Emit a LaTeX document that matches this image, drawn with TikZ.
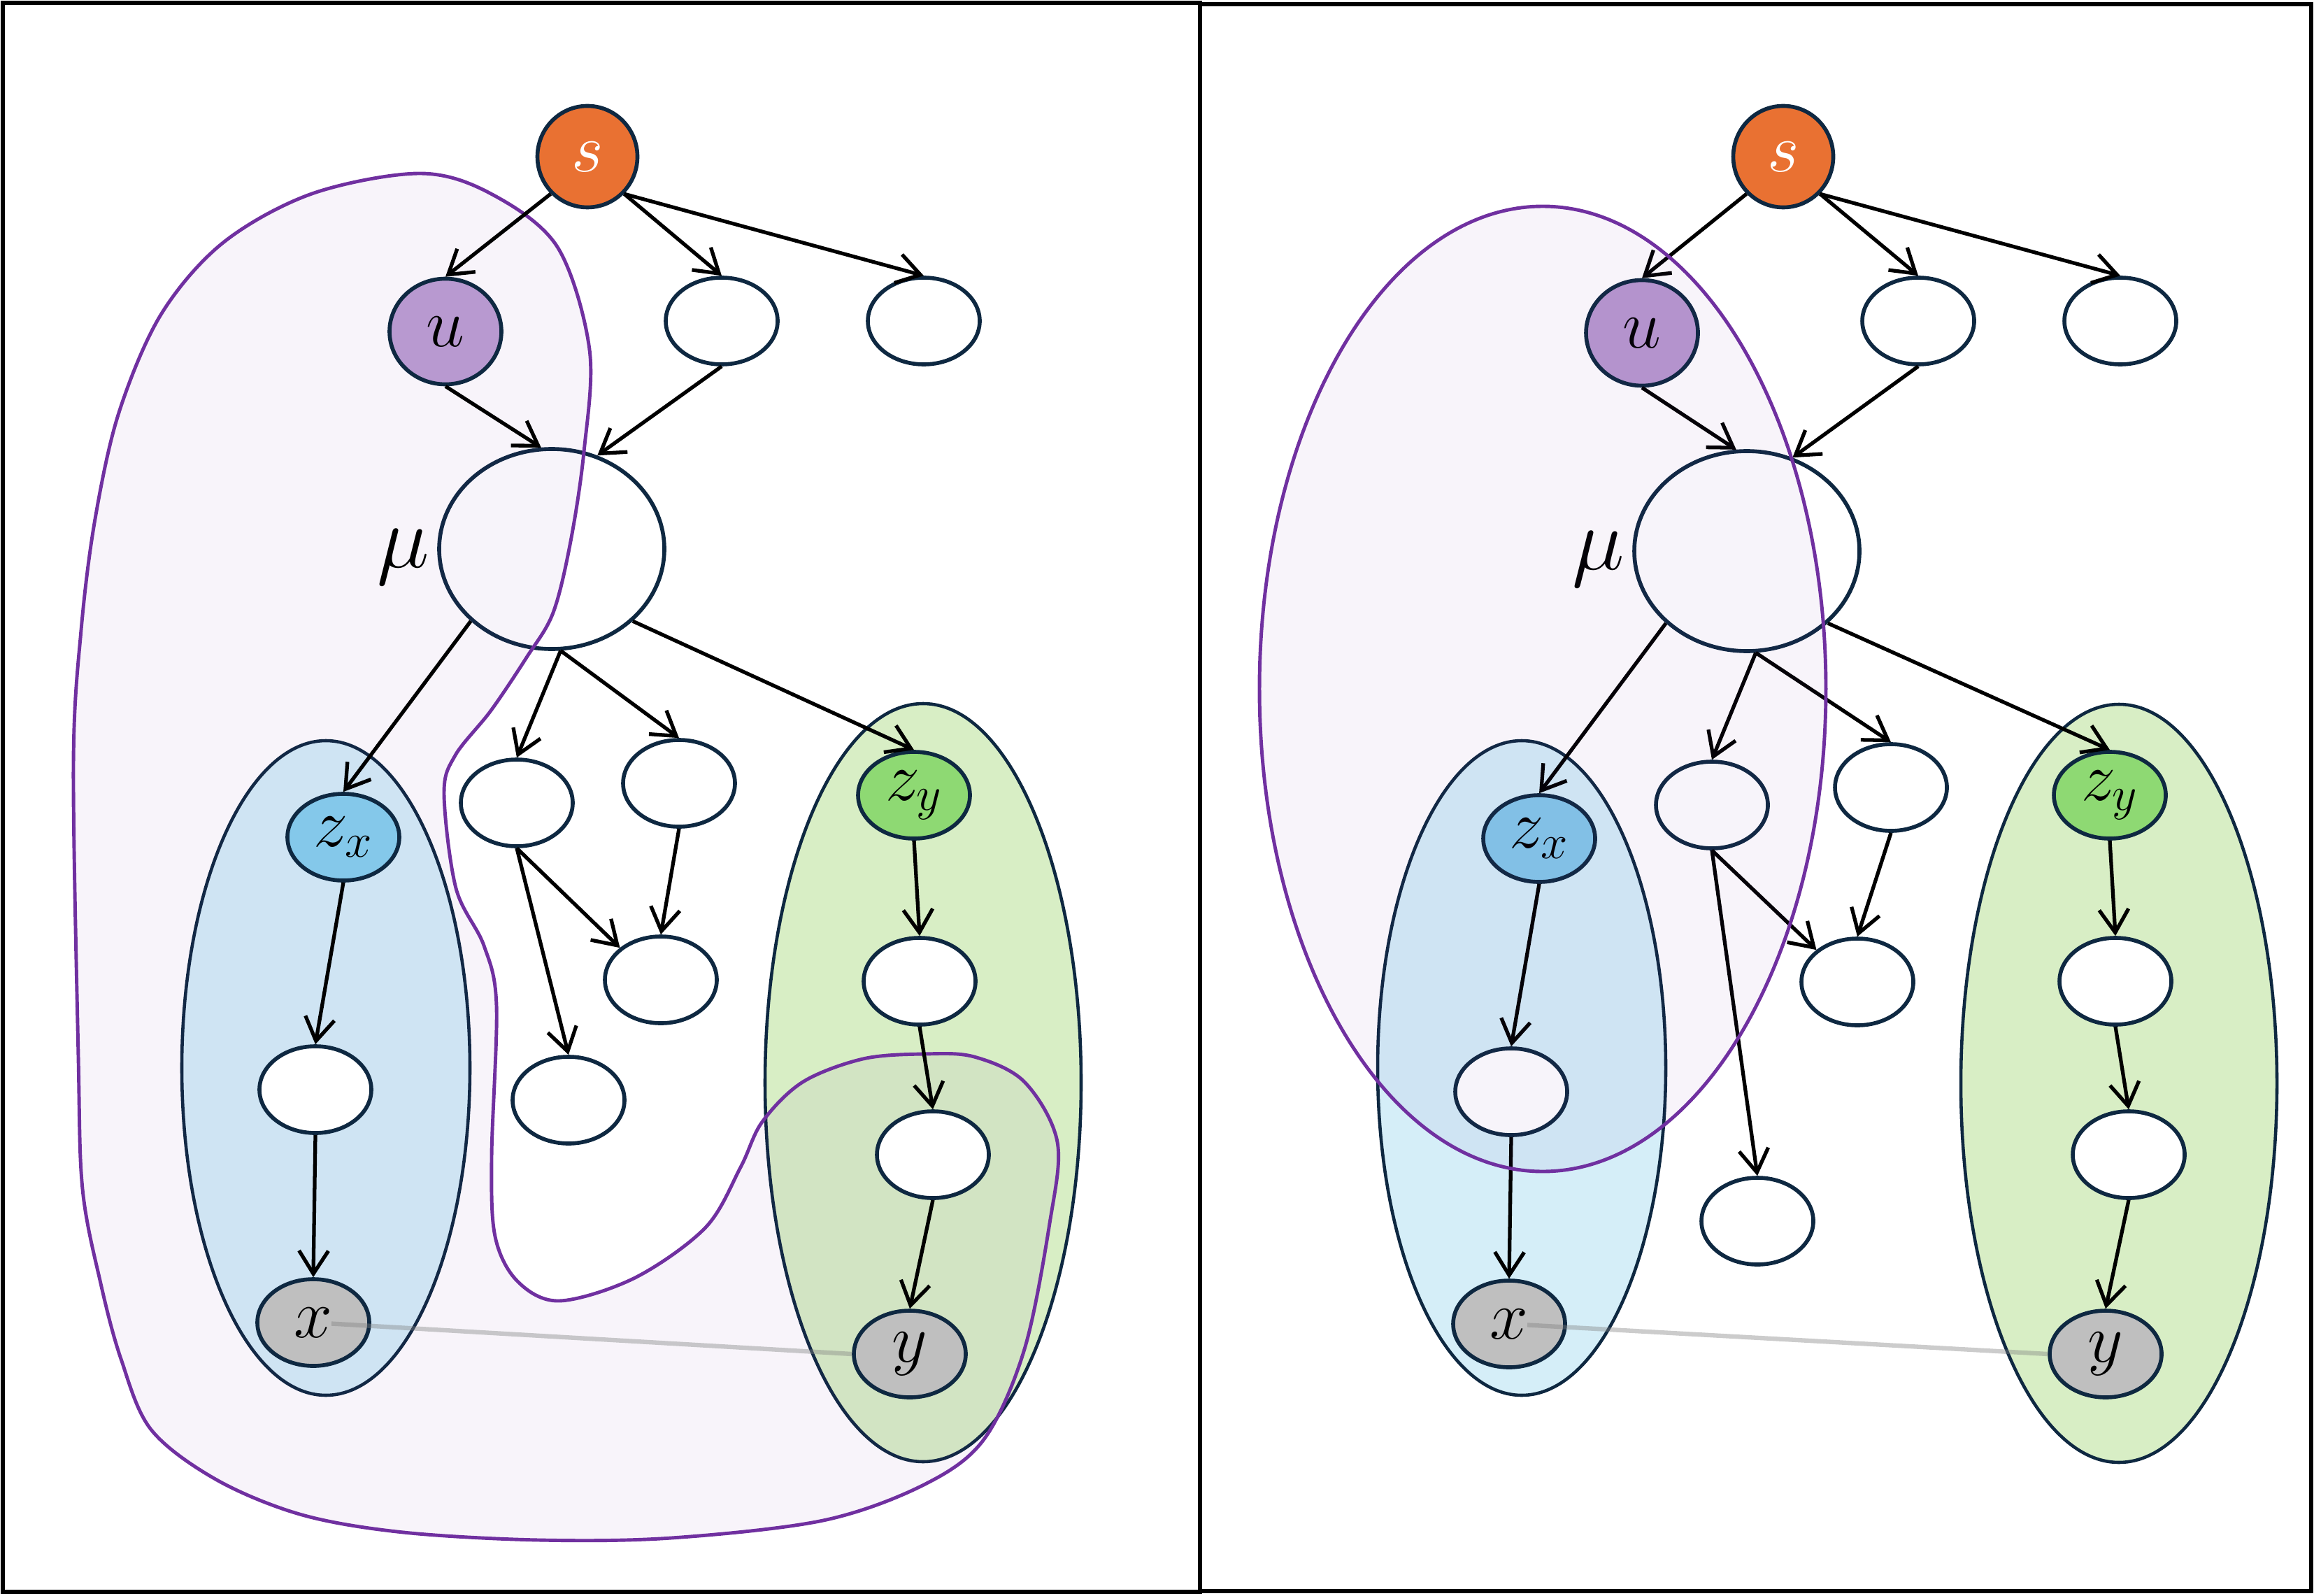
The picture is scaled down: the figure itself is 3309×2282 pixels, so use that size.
\documentclass[tikz,border=0pt]{standalone}
\usepackage{fix-cm}
\usetikzlibrary{shapes.geometric,arrows.meta}
\definecolor{navy}{HTML}{0E2841}
\definecolor{sorange}{HTML}{E97132}
\definecolor{ulilac}{HTML}{B899D0}
\definecolor{zxblue}{HTML}{84C8EA}
\definecolor{zygreen}{HTML}{8ED973}
\definecolor{obsgray}{HTML}{BFBFBF}
\definecolor{xgroup}{HTML}{D5EEF8}
\definecolor{ygroup}{HTML}{D8EEC5}
\definecolor{blobline}{HTML}{7030A0}
\begin{document}
\begin{tikzpicture}[x=0.1mm, y=-0.1mm,
    var/.style={ellipse, draw=navy, line width=1.6pt, fill=white, inner sep=0pt,
        minimum width=16mm, minimum height=12.4mm, font=\fontsize{28}{32}\selectfont},
    big/.style={var, minimum width=32.2mm, minimum height=28.6mm},
    group/.style={draw=navy, line width=1.3pt},
    edge/.style={-{Straight Barb[length=3.3mm,width=4.2mm]}, line width=1.5pt},
    region/.style={draw=blobline, line width=1.4pt, fill=blobline, fill opacity=0.05},
    link/.style={draw=black!50, draw opacity=0.4, line width=1.8pt, shorten <=2.6mm},
    frame/.style={line width=1.7pt}]
    \pgfmathsetmacro{\off}{1710};
    \useasboundingbox (0,0) rectangle (3309,2282);
    \draw [frame] (4,4) rectangle (1716,2276);
    \draw [frame] (1716,6) rectangle (3305,2275);
    % left panel
    \draw [group, fill=xgroup] (466,1527) ellipse [x radius=20.6mm, y radius=46.8mm];
    \draw [group, fill=ygroup] (1320,1548) ellipse [x radius=22.6mm, y radius=54.2mm];
    \node (mu1) [big] at (789,785) {};
    \draw [region] plot [smooth cycle, tension=0.55] coordinates {
        (600,248) (702,277) (797,353) (843,500) (835,646) (816,774) (791,876)
        (753,940) (702,1016) (651,1080) (635,1135) (652,1270) (692,1352)
        (710,1438) (703,1654) (708,1768) (740,1832) (800,1860) (908,1827)
        (1009,1755) (1059,1669) (1090,1604) (1148,1547) (1234,1514) (1321,1507)
        (1393,1511) (1465,1547) (1512,1633) (1501,1749) (1465,1929) (1407,2058)
        (1321,2123) (1177,2174) (960,2199) (771,2202) (577,2191) (432,2166)
        (310,2116) (216,2044) (173,1943) (144,1835) (118,1700) (112,1510)
        (105,1093) (116,901) (136,742) (170,590) (230,450) (319,347) (446,277)};
    \node (s1) [var, fill=sorange, text=white, minimum width=14.3mm, minimum height=14.5mm] at (840,224) {$s$};
    \node (u1) [var, fill=ulilac, minimum height=15.1mm] at (637,474) {$u$};
    \node (p1) [var] at (1032,459) {};
    \node (q1) [var] at (1321,459) {};
    \node (ml1) [left, inner sep=1mm, yshift=-1.2mm, font=\fontsize{36}{40}\selectfont] at (mu1.west) {$\mu$};
    \node (zx1) [var, fill=zxblue] at (491,1197) {$z_x$};
    \node (mx1) [var] at (451,1558) {};
    \node (x1) [var, fill=obsgray] at (448,1891) {$x$};
    \node (a1) [var] at (739,1148) {};
    \node (b1) [var] at (971,1120) {};
    \node (c1) [var] at (945,1401) {};
    \node (d1) [var] at (813,1573) {};
    \node (zy1) [var, fill=zygreen] at (1307,1137) {$z_y$};
    \node (my1) [var] at (1315,1403) {};
    \node (ny1) [var] at (1334,1651) {};
    \node (y1) [var, fill=obsgray] at (1301,1936) {$y$};
    \draw [edge] (s1.south west) -- (u1.north);
    \draw [edge] (s1.south east) -- (p1.north);
    \draw [edge] (s1.south east) -- (q1.north);
    \draw [edge] (u1.south) -- (mu1.96);
    \draw [edge] (p1.south) -- (mu1.64);
    \draw [edge] (mu1.south west) -- (zx1.north);
    \draw [edge] (mu1.-85) -- (a1.north);
    \draw [edge] (mu1.-85) -- (b1.north);
    \draw [edge] (mu1.south east) -- (zy1.north);
    \draw [edge] (zx1.south) -- (mx1.north);
    \draw [edge] (mx1.south) -- (x1.north);
    \draw [edge] (a1.south) -- (c1.north west);
    \draw [edge] (a1.south) -- (d1.north);
    \draw [edge] (b1.south) -- (c1.north);
    \draw [edge] (zy1.south) -- (my1.north);
    \draw [edge] (my1.south) -- (ny1.north);
    \draw [edge] (ny1.south) -- (y1.north);
    \draw [link] (x1.center) -- (y1.west);
    % right panel
    \draw [group, fill=xgroup] ({\off+466},1527) ellipse [x radius=20.6mm, y radius=46.8mm];
    \draw [group, fill=ygroup] ({\off+1320},1549) ellipse [x radius=22.6mm, y radius=54.2mm];
    \node (s2) [var, fill=sorange, text=white, minimum width=14.3mm, minimum height=14.5mm] at ({\off+840},224) {$s$};
    \node (u2) [var, fill=ulilac, minimum height=15.1mm] at ({\off+638},476) {$u$};
    \node (p2) [var] at ({\off+1033},459) {};
    \node (q2) [var] at ({\off+1322},459) {};
    \node (mu2) [big] at ({\off+788},788) {};
    \node (ml2) [left, inner sep=1mm, yshift=-1.2mm, font=\fontsize{36}{40}\selectfont] at (mu2.west) {$\mu$};
    \node (zx2) [var, fill=zxblue] at ({\off+491},1199) {$z_x$};
    \node (mx2) [var] at ({\off+451},1561) {};
    \node (x2) [var, fill=obsgray] at ({\off+448},1893) {$x$};
    \node (a2) [var] at ({\off+738},1151) {};
    \node (b2) [var] at ({\off+994},1126) {};
    \node (c2) [var] at ({\off+946},1404) {};
    \node (d2) [var] at ({\off+803},1746) {};
    \node (zy2) [var, fill=zygreen] at ({\off+1307},1137) {$z_y$};
    \node (my2) [var] at ({\off+1315},1403) {};
    \node (ny2) [var] at ({\off+1334},1651) {};
    \node (y2) [var, fill=obsgray] at ({\off+1301},1936) {$y$};
    \draw [edge] (s2.south west) -- (u2.north);
    \draw [edge] (s2.south east) -- (p2.north);
    \draw [edge] (s2.south east) -- (q2.north);
    \draw [edge] (u2.south) -- (mu2.96);
    \draw [edge] (p2.south) -- (mu2.64);
    \draw [edge] (mu2.south west) -- (zx2.north);
    \draw [edge] (mu2.-85) -- (a2.north);
    \draw [edge] (mu2.-85) -- (b2.north);
    \draw [edge] (mu2.south east) -- (zy2.north);
    \draw [edge] (zx2.south) -- (mx2.north);
    \draw [edge] (mx2.south) -- (x2.north);
    \draw [edge] (a2.south) -- (c2.north west);
    \draw [edge] (a2.south) -- (d2.north);
    \draw [edge] (b2.south) -- (c2.north);
    \draw [edge] (zy2.south) -- (my2.north);
    \draw [edge] (my2.south) -- (ny2.north);
    \draw [edge] (ny2.south) -- (y2.north);
    \draw [region] (2206,985) ellipse [x radius=40.5mm, y radius=69mm];
    \draw [link] (x2.center) -- (y2.west);
\end{tikzpicture}
\end{document}
